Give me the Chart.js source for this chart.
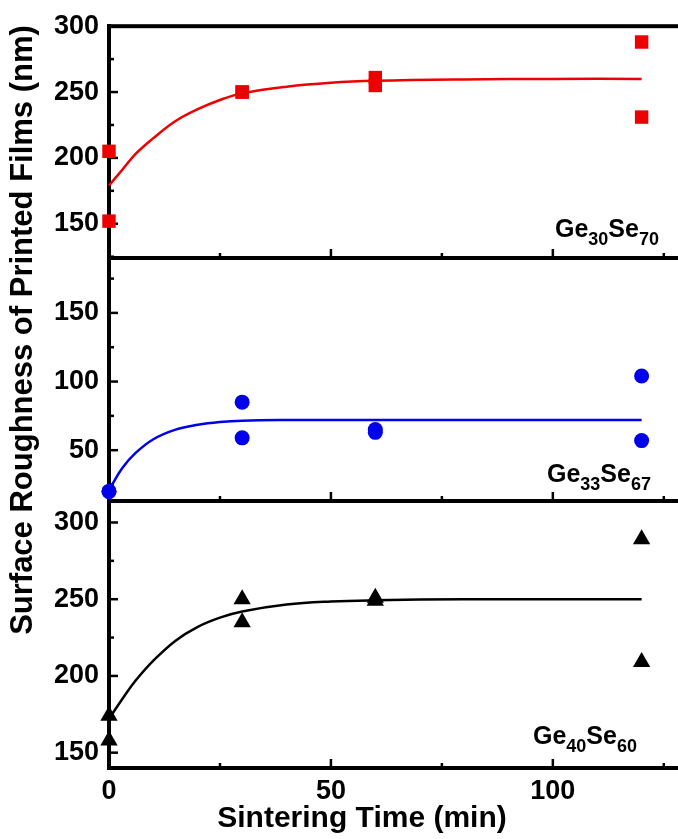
<!DOCTYPE html>
<html>
<head>
<meta charset="utf-8">
<script src="https://cdn.jsdelivr.net/npm/chart.js@4"></script>
<style>
html, body { margin: 0; padding: 0; background: #fff; overflow: hidden; }
#wrap { position: relative; width: 678px; height: 839px; overflow: hidden; }
#wrap canvas { position: absolute; left: 0; top: 0; }
</style>
</head>
<body>
<div id="wrap">
    <canvas id="c1" width="700" height="839"></canvas>
    <canvas id="c2" width="700" height="839"></canvas>
    <canvas id="c3" width="700" height="839"></canvas>
</div>
<script>
"use strict"

// sintering time (min), two films measured per time
const timeX = [0, 0, 30, 30, 60, 60, 120, 120];

// surface roughness (nm)
const ge30Se70 = [205, 152, 250, 250, 261, 255, 288, 231];
const ge33Se67 = [20, 20, 85, 59, 65, 63, 104, 57];
const ge40Se60 = [174, 158, 250, 235, 251, 249, 289, 209];

// fitted curves
const fitX = [0, 3, 6, 10, 15, 20, 25, 30, 40, 50, 60, 80, 100, 120];
const fit30 = [179, 191, 203, 215, 228, 237, 244, 249, 254, 257, 258.5, 259.6, 260, 260];
const fit33 = [21, 37, 48, 58, 65, 68.5, 70.5, 71.5, 72, 72, 72, 72, 72, 72];
const fit40 = [172, 185, 197, 210, 223, 232, 238, 242, 246.5, 248.5, 249.3, 250, 250, 250];

// tick labels
const xTicks = [0, 50, 100];
const yTicks30 = [150, 200, 250, 300];
const yTicks33 = [50, 100, 150];
const yTicks40 = [150, 200, 250, 300];

const FONT = "'Liberation Sans', Arial, sans-serif";
const LINE_W = 4;

// one canvas per panel, all the same size, the padding puts each plot area in place
const panels = [
    { id: "c1", formula: ["Ge", "30", "Se", "70"], values: ge30Se70, fit: fit30,
      color: "rgb(237,0,0)", marker: "rect", radius: 9.5,
      yMin: 124, yMax: 300, yTicks: yTicks30, top: 25, bottom: 258, labelX: 555, labelY: 237 },
    { id: "c2", formula: ["Ge", "33", "Se", "67"], values: ge33Se67, fit: fit33,
      color: "rgb(0,0,235)", marker: "circle", radius: 7.5,
      yMin: 13, yMax: 190, yTicks: yTicks33, top: 258, bottom: 501, labelX: 547, labelY: 482 },
    { id: "c3", formula: ["Ge", "40", "Se", "60"], values: ge40Se60, fit: fit40,
      color: "rgb(0,0,0)", marker: "triangle", radius: 10,
      yMin: 140, yMax: 314, yTicks: yTicks40, top: 501, bottom: 768, labelX: 533, labelY: 744 }
];


function drawFormula(ctx, parts, x, y) {
    let cx = x;
    ctx.fillStyle = "#000";
    ctx.textAlign = "left";
    ctx.textBaseline = "alphabetic";
    parts.forEach((p, i) => {
        const sub = i % 2 === 1;
        ctx.font = (sub ? "bold 18px " : "bold 25px ") + FONT;
        ctx.fillText(p, cx, sub ? y + 8 : y);
        cx += ctx.measureText(p).width;
    });
}


// frame + inward ticks, drawn under the markers
const framePlugin = {
    id: "frame",
    beforeDatasetsDraw(chart, args, opts) {
        const { ctx, chartArea: a, scales } = chart;
        ctx.save();
        ctx.strokeStyle = "#000";
        ctx.lineWidth = LINE_W;
        ctx.strokeRect(a.left, a.top, a.right - a.left, a.bottom - a.top);

        ctx.lineWidth = 2.5;
        // x ticks along the bottom of each panel
        for (let v = 0; v <= scales.x.max; v += 25) {
            const px = scales.x.getPixelForValue(v);
            const len = v % 50 === 0 ? 9 : 5;
            ctx.beginPath();
            ctx.moveTo(px, a.bottom);
            ctx.lineTo(px, a.bottom - len);
            ctx.stroke();
        }
        // y ticks on the left axis
        const y = scales.y;
        const first = Math.ceil(y.min / 25) * 25;
        for (let v = first; v <= y.max; v += 25) {
            const py = y.getPixelForValue(v);
            const len = v % 50 === 0 ? 9 : 5;
            ctx.beginPath();
            ctx.moveTo(a.left, py);
            ctx.lineTo(a.left + len, py);
            ctx.stroke();
        }
        ctx.restore();
    },
    afterDraw(chart, args, opts) {
        const ctx = chart.ctx;
        ctx.save();
        drawFormula(ctx, opts.formula, opts.labelX, opts.labelY);

        if (opts.titles) {
            ctx.fillStyle = "#000";
            ctx.font = "bold 30px " + FONT;
            ctx.textAlign = "center";
            ctx.textBaseline = "middle";
            ctx.fillText("Sintering Time (min)", 362, 819);

            ctx.font = "bold 31px " + FONT;
            ctx.translate(23, 330);
            ctx.rotate(-Math.PI / 2);
            ctx.fillText("Surface Roughness of Printed Films (nm)", 0, 0);
        }
        ctx.restore();
    }
};


function makeChart(p, last) {
    const points = timeX.map((t, i) => ({ x: t, y: p.values[i] }));
    const curve = fitX.map((t, i) => ({ x: t, y: p.fit[i] }));

    const data = {
        datasets: [
            {
                data: curve,
                showLine: true,
                borderColor: p.color,
                borderWidth: 2.5,
                pointRadius: 0,
                tension: 0.4,
                clip: false
            },
            {
                data: points,
                showLine: false,
                pointStyle: p.marker,
                pointRadius: p.radius,
                pointBackgroundColor: p.color,
                pointBorderColor: p.color,
                pointBorderWidth: 0,
                clip: false
            }
        ]
    };

    const config = {
        type: "scatter",
        data: data,
        options: {
            responsive: false,
            animation: false,
            events: [],
            layout: {
                padding: { left: 0, right: 14, top: p.top, bottom: last ? 0 : 839 - p.bottom }
            },
            plugins: {
                legend: { display: false },
                tooltip: { enabled: false },
                frame: { formula: p.formula, labelX: p.labelX, labelY: p.labelY, titles: last }
            },
            scales: {
                x: {
                    type: "linear",
                    min: 0,
                    max: 130,
                    display: last,
                    grid: { display: false, drawTicks: false },
                    border: { display: false },
                    afterBuildTicks: (s) => { s.ticks = xTicks.map(v => ({ value: v })); },
                    afterFit: (s) => { if (last) s.height = 839 - p.bottom; },
                    ticks: {
                        padding: 7,
                        color: "#000",
                        font: { family: FONT, size: 27, weight: "bold" }
                    }
                },
                y: {
                    type: "linear",
                    min: p.yMin,
                    max: p.yMax,
                    grid: { display: false, drawTicks: false },
                    border: { display: true, color: "#000", width: LINE_W },
                    afterBuildTicks: (s) => { s.ticks = p.yTicks.map(v => ({ value: v })); },
                    afterFit: (s) => { s.width = 109; },
                    ticks: {
                        padding: 10,
                        color: "#000",
                        font: { family: FONT, size: 27, weight: "bold" }
                    }
                }
            }
        },
        plugins: [framePlugin]
    };

    return new Chart(document.querySelector("#" + p.id), config);
}

panels.forEach((p, i) => makeChart(p, i === panels.length - 1));
</script>
</body>
</html>
